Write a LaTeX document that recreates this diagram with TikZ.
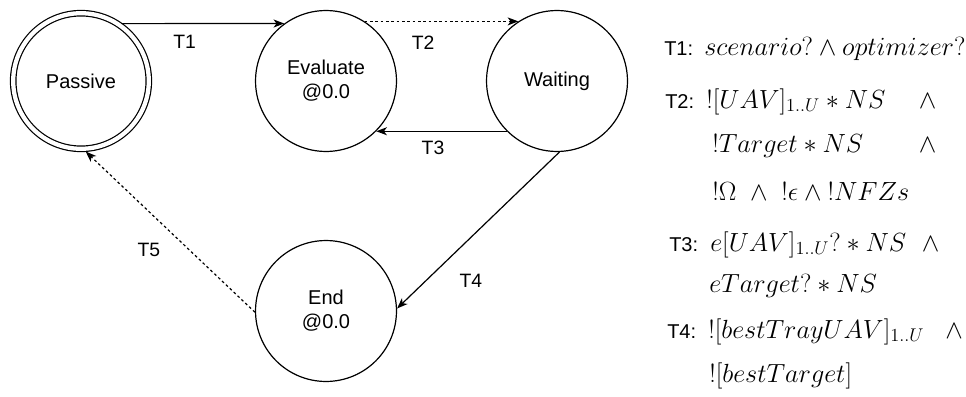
\RequirePackage{fix-cm}
\documentclass[tikz,border=0pt]{standalone}
\usepackage{amsmath,amssymb}
\usepackage{fontspec}
\newfontfamily\lblfont{Liberation Sans}
\usepackage{tikz}
\usetikzlibrary{arrows,arrows.meta}
\usetikzlibrary{positioning}

\begin{document}
\begin{tikzpicture}[
	x=0.75pt,
	y=-0.75pt,
	state/.style={
		draw,
		circle,
		line width=0.9pt,
		minimum size=105.7pt,
		inner sep=0pt,
		align=center,
		font=\lblfont\fontsize{15}{18}\selectfont,
	},
	initstate/.style={
		state,
		double,
		double distance=3.2pt,
		minimum size=101.7pt,
	},
	trans/.style={
		line width=0.9pt,
		->,
	},
	lazytrans/.style={
		trans,
		dash pattern=on 2pt off 2pt,
	},
	tlabel/.style={
		font=\lblfont\fontsize{14.5}{17}\selectfont,
		inner sep=1pt,
	},
	key/.style={
		anchor=base west,
		inner sep=0pt,
		font=\lblfont\fontsize{15}{18}\selectfont,
	},
	cond/.style={
		anchor=base west,
		inner sep=0pt,
		align=left,
		font=\fontsize{19.7}{23}\selectfont,
	},
	>={Stealth[length=8pt,width=6pt,inset=2.2pt]},
	on grid,
]
\useasboundingbox (0,0) rectangle (966,396);

\node [initstate] (passive) at (81,81) {Passive};
\node [state, right=183.75pt of passive] (evaluate) {Evaluate\\@0.0};
\node [state, right=173.25pt of evaluate] (waiting) {Waiting};
\node [state, below=172.5pt of evaluate] (end) {End\\@0.0};

\draw [trans, shorten <=2.4pt] (passive.57) -- node [tlabel, pos=.4, below=7.5pt] (t1lbl) {T1} (evaluate.126);
\draw [lazytrans] (evaluate.57) -- node [tlabel, pos=.38, below=9.75pt] (t2lbl) {T2} (waiting.123);
\draw [trans] (waiting.225) -- node [tlabel, pos=.565, below=6pt] (t3lbl) {T3} (evaluate.315);
\draw [trans] (waiting.272) -- node [tlabel, pos=.82, right=23.6pt] (t4lbl) {T4} (end.2);
\draw [lazytrans, shorten >=2.4pt] (end.181) -- node [tlabel, pos=.38, left=20.7pt] (t5lbl) {T5} (passive.272);

% guards of the transitions
\node [key] (key1) at (664,55) {T1:};
\node [cond] (cond1) at (704,55) {$scenario?\wedge optimizer?$};
\node [key] (key2) at (665,108) {T2:};
\node [cond, text width=172.5pt] (cond2a) at (706,108) {$![UAV]_{1..U}*NS$\hfill$\wedge$};
\node [cond, text width=168pt] (cond2b) at (712,152) {$!Target*NS$\hfill$\wedge$};
\node [cond] (cond2c) at (712,200) {${!}\Omega\ \wedge\ {!}\epsilon\wedge{!}NFZs$};
\node [key] (key3) at (669,251) {T3:};
\node [cond, text width=171.75pt] (cond3a) at (710,251) {$e[UAV]_{1..U}?*NS$\hfill$\wedge$};
\node [cond] (cond3b) at (709,292) {$eTarget?*NS$};
\node [key] (key4) at (667,338) {T4:};
\node [cond, text width=191pt] (cond4a) at (708,338) {$![bestTrayUAV]_{1..U}$\hfill$\wedge$};
\node [cond] (cond4b) at (709,382) {$![bestTarget]$};
\end{tikzpicture}
\end{document}
